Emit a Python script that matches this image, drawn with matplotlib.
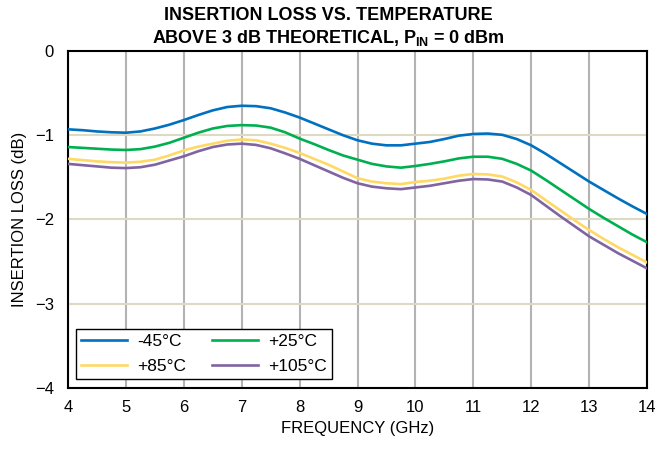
import numpy as np
import matplotlib
matplotlib.use("Agg")
import matplotlib.pyplot as plt

plt.rcParams["font.family"] = ["Liberation Sans", "DejaVu Sans"]
plt.rcParams["mathtext.fontset"] = "custom"
plt.rcParams["mathtext.rm"] = "Liberation Sans"
plt.rcParams["mathtext.bf"] = "Liberation Sans:bold"

# frequency points (GHz) at 0.25 GHz steps
freq = [4.00, 4.25, 4.50, 4.75, 5.00, 5.25, 5.50, 5.75, 6.00, 6.25, 6.50, 6.75,
        7.00, 7.25, 7.50, 7.75, 8.00, 8.25, 8.50, 8.75, 9.00, 9.25, 9.50, 9.75,
        10.00, 10.25, 10.50, 10.75, 11.00, 11.25, 11.50, 11.75, 12.00, 12.25,
        12.50, 12.75, 13.00, 13.25, 13.50, 13.75, 14.00]
loss_m45 = [-0.93, -0.94, -0.955, -0.965, -0.97, -0.955, -0.92, -0.875, -0.82, -0.76,
            -0.705, -0.665, -0.65, -0.655, -0.68, -0.73, -0.79, -0.86, -0.93, -1.00,
            -1.06, -1.10, -1.12, -1.12, -1.10, -1.08, -1.045, -1.005, -0.985, -0.98,
            -0.995, -1.045, -1.12, -1.22, -1.33, -1.44, -1.55, -1.65, -1.75, -1.845, -1.935]
loss_p25 = [-1.14, -1.15, -1.16, -1.17, -1.175, -1.165, -1.135, -1.09, -1.03, -0.97,
            -0.92, -0.89, -0.88, -0.885, -0.91, -0.965, -1.04, -1.105, -1.175, -1.24,
            -1.29, -1.34, -1.37, -1.385, -1.365, -1.34, -1.31, -1.275, -1.255, -1.255,
            -1.28, -1.34, -1.42, -1.53, -1.645, -1.76, -1.875, -1.98, -2.08, -2.18, -2.27]
loss_p85 = [-1.28, -1.295, -1.31, -1.32, -1.325, -1.315, -1.29, -1.24, -1.18, -1.135,
            -1.10, -1.065, -1.05, -1.06, -1.10, -1.15, -1.21, -1.28, -1.35, -1.43,
            -1.51, -1.55, -1.57, -1.58, -1.555, -1.54, -1.515, -1.48, -1.46, -1.465,
            -1.49, -1.56, -1.65, -1.77, -1.89, -2.01, -2.125, -2.23, -2.33, -2.42, -2.51]
loss_p105 = [-1.34, -1.355, -1.37, -1.385, -1.39, -1.38, -1.35, -1.30, -1.25, -1.19,
             -1.14, -1.11, -1.10, -1.115, -1.155, -1.215, -1.28, -1.355, -1.43, -1.505,
             -1.57, -1.61, -1.63, -1.64, -1.62, -1.60, -1.57, -1.54, -1.52, -1.525,
             -1.55, -1.62, -1.71, -1.835, -1.96, -2.08, -2.20, -2.30, -2.40, -2.49, -2.58]
labels = ["-45°C", "+25°C", "+85°C", "+105°C"]
colors = ["#0070c0", "#00b050", "#ffd966", "#8064a2"]
x_ticks = list(range(4, 15))
y_ticks = [0, -1, -2, -3, -4]

fig = plt.figure(figsize=(6.57, 4.5), dpi=100)
ax = fig.add_axes([0.1035, 0.1378, 0.8813, 0.7489])

for v in x_ticks:
    ax.axvline(v, color="#b3b3b3", lw=1.5, zorder=1)
for v in y_ticks:
    ax.axhline(v, color="#ddd9c3", lw=1.5, zorder=1)

lines = []
for ys, lab, c in zip([loss_m45, loss_p25, loss_p85, loss_p105], labels, colors):
    ln, = ax.plot(freq, ys, color=c, lw=1.9, label=lab, zorder=3)
    lines.append(ln)

ax.set_xlim(4, 14)
ax.set_ylim(-4, 0)
ax.set_xticks(x_ticks)
ax.set_yticks(y_ticks)
ax.tick_params(length=0, labelsize=12)
ax.tick_params(axis="x", pad=9)
ax.tick_params(axis="y", pad=10)
for s in ax.spines.values():
    s.set_linewidth(1.5)
    s.set_color("black")

ax.set_xlabel("FREQUENCY (GHz)", fontsize=12, labelpad=4)
ax.set_ylabel("INSERTION LOSS (dB)", fontsize=12, labelpad=6)

fig.text(0.5, 0.984, "INSERTION LOSS VS. TEMPERATURE", ha="center", va="top",
         fontsize=13, fontweight="bold")
fig.text(0.5, 0.937, r"ABOVE 3 dB THEORETICAL, $\mathbf{P_{IN}}$ = 0 dBm", ha="center",
         va="top", fontsize=13, fontweight="bold")

# row-major order like the original: -45 / +25 on top, +85 / +105 below
order = [0, 2, 1, 3]
leg = ax.legend([lines[i] for i in order], [labels[i] for i in order],
                ncol=2, loc="lower left", bbox_to_anchor=(0.0138, 0.027),
                borderaxespad=0, fontsize=12.5, frameon=True, fancybox=False,
                edgecolor="black", framealpha=1, handlelength=2.65,
                columnspacing=1.45, handletextpad=0.6, borderpad=0.3,
                labelspacing=0.55)
leg.get_frame().set_linewidth(1.0)

fig.savefig("out.png", dpi=100)
